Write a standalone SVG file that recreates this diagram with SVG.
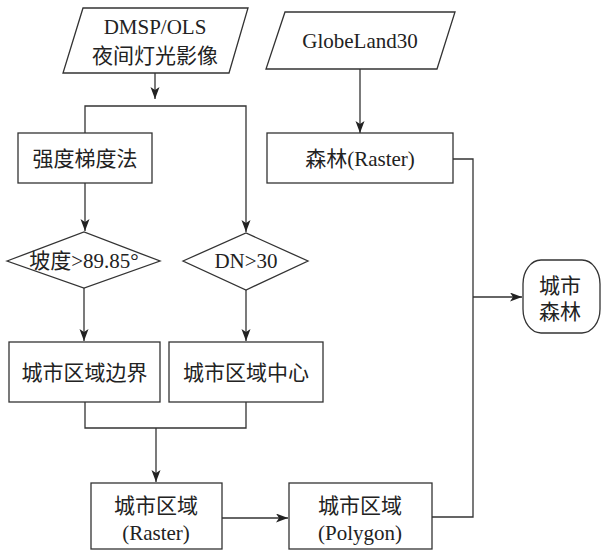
<svg xmlns="http://www.w3.org/2000/svg" width="601" height="551" viewBox="0 0 601 551">
<style>
.s{fill:#fff;stroke:#333;stroke-width:1.3}
.c{fill:none;stroke:#333;stroke-width:1.3}
text{font-family:"Liberation Serif","Noto Sans CJK SC",serif;font-size:21px;fill:#222;text-anchor:middle}
</style>
<defs>
<marker id="ah" markerUnits="userSpaceOnUse" markerWidth="12" markerHeight="10" refX="12" refY="4.5" orient="auto">
<path d="M0,0 L12,4.5 L0,9 L3,4.5 z" fill="#222"/>
</marker>
</defs>
<rect width="601" height="551" fill="#fff"/>
<g id="connectors">
<path class="c" d="M155,73 V99" marker-end="url(#ah)"/>
<path class="c" d="M85,133 V106 H246 V232" marker-end="url(#ah)"/>
<path class="c" d="M85,183 V231" marker-end="url(#ah)"/>
<path class="c" d="M360,69 V133" marker-end="url(#ah)"/>
<path class="c" d="M84,288 V341" marker-end="url(#ah)"/>
<path class="c" d="M246,290 V341" marker-end="url(#ah)"/>
<path class="c" d="M85,402 V428 H246 V402"/>
<path class="c" d="M156,428 V482" marker-end="url(#ah)"/>
<path class="c" d="M222,518 H288" marker-end="url(#ah)"/>
<path class="c" d="M432,517 H473 V159 H453"/>
<path class="c" d="M473,297 H522" marker-end="url(#ah)"/>
</g>
<g id="dmsp">
<polygon class="s" points="83,8 248,8 229,73 63,73"/>
<text x="155" y="34">DMSP/OLS</text>
<text x="155" y="63">夜间灯光影像</text>
</g>
<g id="globeland">
<polygon class="s" points="285,12 455,12 437,69 266,69"/>
<text x="360" y="48">GlobeLand30</text>
</g>
<g id="gradient">
<rect class="s" x="18" y="133" width="134" height="50"/>
<text x="85" y="166">强度梯度法</text>
</g>
<g id="forest">
<rect class="s" x="267" y="133" width="186" height="50"/>
<text x="360" y="166">森林(Raster)</text>
</g>
<g id="slope">
<polygon class="s" points="7,261 84,232 160,261 84,288"/>
<text x="84" y="268">坡度&gt;89.85°</text>
</g>
<g id="dn">
<polygon class="s" points="183,261 246,233 308,261 246,290"/>
<text x="246" y="268">DN&gt;30</text>
</g>
<g id="boundary">
<rect class="s" x="9" y="342" width="151" height="60"/>
<text x="84.5" y="380">城市区域边界</text>
</g>
<g id="center">
<rect class="s" x="169" y="342" width="154" height="60"/>
<text x="246" y="380">城市区域中心</text>
</g>
<g id="raster">
<rect class="s" x="91" y="483" width="131" height="66"/>
<text x="156" y="513">城市区域</text>
<text x="156" y="540">(Raster)</text>
</g>
<g id="polygon">
<rect class="s" x="289" y="483" width="143" height="66"/>
<text x="360" y="513">城市区域</text>
<text x="360" y="540">(Polygon)</text>
</g>
<g id="urbanforest">
<rect class="s" x="523" y="260" width="77" height="73" rx="18" ry="24"/>
<text x="560" y="293">城市</text>
<text x="560" y="319">森林</text>
</g>
</svg>
